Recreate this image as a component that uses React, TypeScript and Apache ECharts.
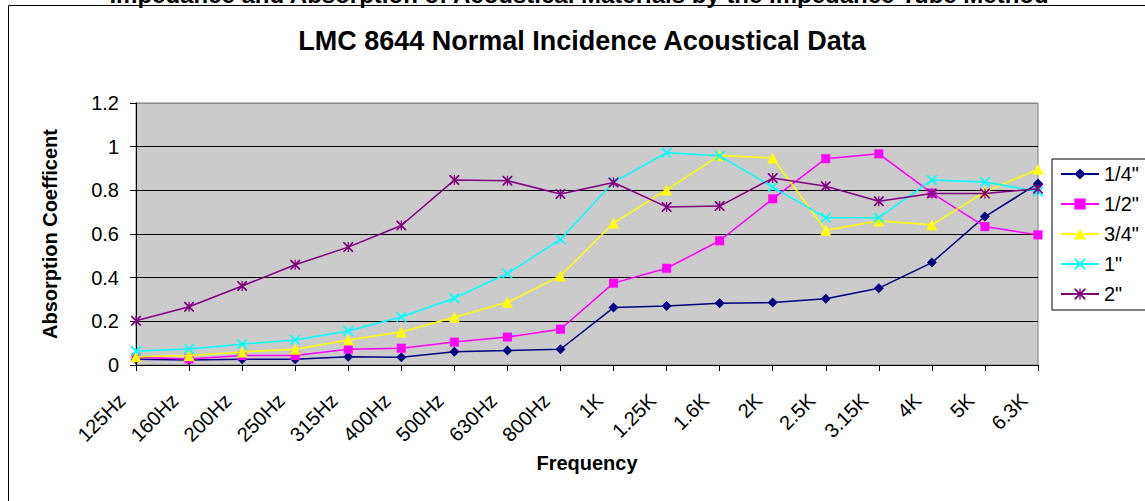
import React, { useEffect, useRef } from "react";
import * as echarts from "echarts";

const categories = ["125Hz", "160Hz", "200Hz", "250Hz", "315Hz", "400Hz", "500Hz", "630Hz", "800Hz", "1K", "1.25K", "1.6K", "2K", "2.5K", "3.15K", "4K", "5K", "6.3K"];
const seriesNames = ["1/4\"", "1/2\"", "3/4\"", "1\"", "2\""];
const quarterInch = [0.026, 0.023, 0.026, 0.026, 0.038, 0.035, 0.061, 0.066, 0.072, 0.263, 0.27, 0.283, 0.286, 0.303, 0.352, 0.469, 0.68, 0.831];
const halfInch = [0.035, 0.028, 0.043, 0.043, 0.072, 0.077, 0.105, 0.128, 0.164, 0.375, 0.443, 0.569, 0.761, 0.945, 0.967, 0.787, 0.634, 0.596];
const threeQuarterInch = [0.038, 0.043, 0.06, 0.072, 0.115, 0.151, 0.219, 0.287, 0.408, 0.65, 0.802, 0.96, 0.948, 0.617, 0.66, 0.642, 0.793, 0.897];
const oneInch = [0.064, 0.073, 0.095, 0.115, 0.156, 0.22, 0.306, 0.419, 0.575, 0.838, 0.972, 0.958, 0.815, 0.675, 0.675, 0.847, 0.838, 0.795];
const twoInch = [0.203, 0.267, 0.362, 0.459, 0.54, 0.639, 0.847, 0.844, 0.783, 0.836, 0.724, 0.728, 0.856, 0.819, 0.75, 0.786, 0.786, 0.807];
const seriesData = [quarterInch, halfInch, threeQuarterInch, oneInch, twoInch];

const colors = ["#000080", "#FF00FF", "#FFFF00", "#00FFFF", "#800080"];
const X_PATH = "path://M0,0 L1.2,0 L5,3.8 L8.8,0 L10,0 L10,1.2 L6.2,5 L10,8.8 L10,10 L8.8,10 L5,6.2 L1.2,10 L0,10 L0,8.8 L3.8,5 L0,1.2 Z";
const STAR_PATH = X_PATH + " M4.4,0 L5.6,0 L5.6,10 L4.4,10 Z";
const symbols = ["diamond", "rect", "triangle", X_PATH, STAR_PATH];
const symbolSizes = [10, 9, 11, 10, 10];

const FONT = "'Liberation Sans', Arial, sans-serif";

export default function App() {
  const ref = useRef<HTMLDivElement>(null);
  useEffect(() => {
    if (!ref.current) return;
    const chart = echarts.init(ref.current, null, { renderer: "svg" });
    chart.setOption({
      animation: false,
      backgroundColor: "#ffffff",
      textStyle: { fontFamily: FONT },
      graphic: [
        {
          type: "rect",
          shape: { x: 8.5, y: 5.5, width: 1300, height: 700 },
          style: { fill: "none", stroke: "#000", lineWidth: 1 },
          silent: true,
        },
        {
          type: "text",
          x: 579,
          y: 6,
          style: {
            text: "Impedance and Absorption of Acoustical Materials by the Impedance Tube Method",
            font: `bold 24px ${FONT}`,
            fill: "#000",
            textAlign: "center",
            textVerticalAlign: "bottom",
          },
        },
        {
          type: "text",
          x: 582,
          y: 41,
          style: {
            text: "LMC 8644 Normal Incidence Acoustical Data",
            font: `bold 27px ${FONT}`,
            fill: "#000",
            textAlign: "center",
            textVerticalAlign: "middle",
          },
        },
      ],
      grid: {
        left: 136,
        right: 107,
        top: 103,
        bottom: 136,
        show: true,
        backgroundColor: "#cbcbcb",
        borderColor: "#808080",
        borderWidth: 1,
      },
      legend: {
        orient: "vertical",
        left: 1052,
        top: 159,
        padding: [5, 12, 6, 8],
        itemWidth: 38,
        itemHeight: 14,
        itemGap: 10,
        borderColor: "#000",
        borderWidth: 1,
        backgroundColor: "#fff",
        textStyle: { fontSize: 20, color: "#000", fontFamily: FONT },
        data: seriesNames,
      },
      xAxis: {
        type: "category",
        data: categories,
        boundaryGap: false,
        name: "Frequency",
        nameLocation: "middle",
        nameGap: 88,
        nameTextStyle: { fontSize: 20, fontWeight: "bold", color: "#000", fontFamily: FONT },
        axisLine: { lineStyle: { color: "#000", width: 1 } },
        axisTick: { show: true, length: 6, lineStyle: { color: "#000" } },
        axisLabel: {
          rotate: 45,
          fontSize: 20,
          color: "#000",
          margin: 18,
          interval: 0,
          fontFamily: FONT,
          formatter: (v: string) => `${v}{pad| }`,
          rich: { pad: { width: 20, fontSize: 20 } },
        },
        splitLine: { show: false },
      },
      yAxis: {
        type: "value",
        min: 0,
        max: 1.2,
        interval: 0.2,
        name: "Absorption Coefficent",
        nameLocation: "middle",
        nameGap: 76,
        nameTextStyle: { fontSize: 20, fontWeight: "bold", color: "#000", fontFamily: FONT },
        axisLine: { show: true, lineStyle: { color: "#000", width: 1 } },
        axisTick: { show: true, length: 6, lineStyle: { color: "#000" } },
        axisLabel: { fontSize: 20, color: "#000", margin: 17, fontFamily: FONT },
        splitLine: {
          show: true,
          lineStyle: { color: ["#000", "#000", "#000", "#000", "#000", "#000", "#8a8a8a"], width: 1 },
        },
      },
      series: seriesNames.map((name, i) => ({
        name,
        type: "line",
        data: seriesData[i],
        symbol: symbols[i],
        symbolSize: symbolSizes[i],
        showAllSymbol: true,
        lineStyle: { color: colors[i], width: 1.5 },
        itemStyle: { color: colors[i] },
        z: 2 + i,
      })),
    });
    return () => chart.dispose();
  }, []);
  return <div ref={ref} style={{ position: "fixed", left: 0, top: 0, width: 1145, height: 501 }} />;
}
